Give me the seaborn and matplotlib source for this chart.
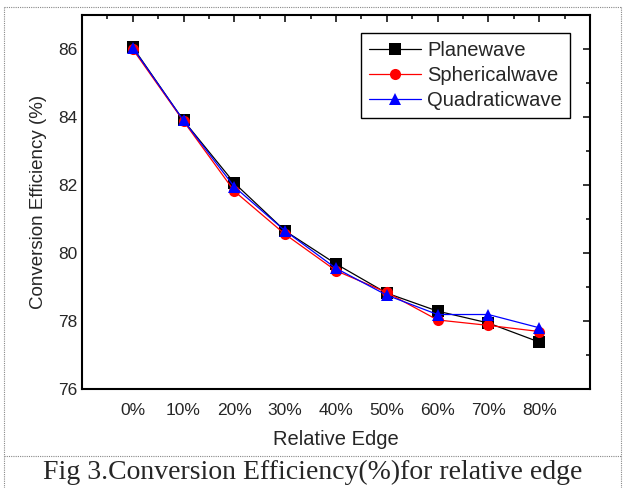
import numpy as np
import pandas as pd
import matplotlib
matplotlib.use("Agg")
import matplotlib.pyplot as plt
from matplotlib.lines import Line2D
from matplotlib.ticker import MultipleLocator
import seaborn as sns

# --- Data ---
edges = ["0%", "10%", "20%", "30%", "40%", "50%", "60%", "70%", "80%"]
planewave = [86.06, 83.90, 82.06, 80.65, 79.68, 78.82, 78.29, 77.94, 77.38]
sphericalwave = [86.00, 83.88, 81.82, 80.55, 79.48, 78.84, 78.03, 77.87, 77.69]
quadraticwave = [86.04, 83.90, 81.95, 80.65, 79.55, 78.76, 78.19, 78.19, 77.80]

df = pd.DataFrame({
    "idx": np.arange(len(edges)),
    "Planewave": planewave,
    "Sphericalwave": sphericalwave,
    "Quadraticwave": quadraticwave,
})
long_df = df.melt(id_vars="idx", var_name="series", value_name="eff")

# --- Style ---
sns.set_style("white")
plt.rcParams["font.family"] = ["Liberation Sans", "DejaVu Sans"]

fig = plt.figure(figsize=(6.25, 4.88), dpi=100)
ax = fig.add_axes([0.131, 0.203, 0.813, 0.766])

sns.lineplot(data=long_df, x="idx", y="eff", hue="series", style="series",
             palette={"Planewave": "black", "Sphericalwave": "red", "Quadraticwave": "blue"},
             markers={"Planewave": "s", "Sphericalwave": "o", "Quadraticwave": "^"},
             dashes=False, markersize=8, markeredgewidth=0, linewidth=0.9, ax=ax)

ax.set_xlim(-1, 9)
ax.set_ylim(76, 87)
ax.set_xticks(range(len(edges)))
ax.set_xticklabels(edges)
ax.xaxis.set_minor_locator(MultipleLocator(0.5))
ax.set_yticks([76, 78, 80, 82, 84, 86])
ax.yaxis.set_minor_locator(MultipleLocator(1))
ax.tick_params(which="both", direction="in", top=True, right=True, labelsize=12.5, width=1.3)
ax.tick_params(which="major", length=5)
ax.tick_params(which="minor", length=3)
ax.tick_params(axis="x", pad=10)
for s in ax.spines.values():
    s.set_linewidth(1.5)
    s.set_color("black")

ax.set_xlabel("Relative Edge", fontsize=14.5, labelpad=9)
ax.set_ylabel("Conversion Efficiency (%)", fontsize=13.5, labelpad=8)

leg = ax.legend(title=None, loc="upper right", bbox_to_anchor=(0.961, 0.952),
                borderaxespad=0, fontsize=14.5, frameon=True, fancybox=False,
                handlelength=2.6, borderpad=0.4, labelspacing=0.3, handletextpad=0.3)
leg.get_frame().set_edgecolor("black")
leg.get_frame().set_linewidth(1.0)
leg.get_frame().set_alpha(1)

# dotted frame and caption
dot = dict(color="#888888", linestyle=(0, (1, 1)), linewidth=0.8)
fig.add_artist(Line2D([0.006, 0.994], [0.986, 0.986], transform=fig.transFigure, **dot))
fig.add_artist(Line2D([0.006, 0.006], [0.0, 0.986], transform=fig.transFigure, **dot))
fig.add_artist(Line2D([0.994, 0.994], [0.0, 0.986], transform=fig.transFigure, **dot))
fig.add_artist(Line2D([0.006, 0.994], [0.066, 0.066], transform=fig.transFigure, **dot))

fig.text(0.5, 0.032, "Fig 3.Conversion Efficiency(%)for relative edge",
         ha="center", va="center", fontsize=20,
         family=["Liberation Serif", "DejaVu Serif"])

fig.savefig("out.png", dpi=100, facecolor="white")
